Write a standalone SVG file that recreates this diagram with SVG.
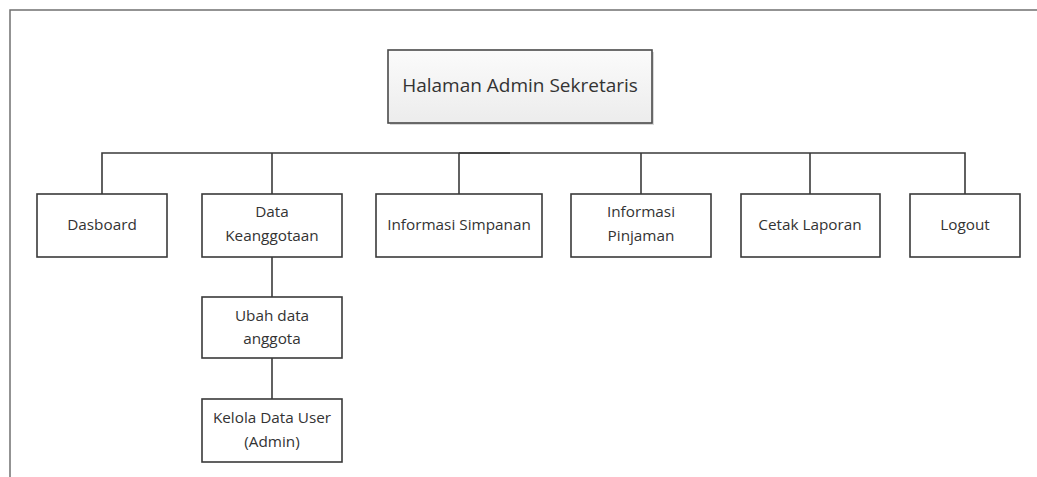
<svg xmlns="http://www.w3.org/2000/svg" width="1037" height="477" viewBox="0 0 1037 477">
  <style>
    .box { fill: #ffffff; stroke: #3a3a3a; stroke-width: 1.6; }
    .root { fill: url(#rootFill); stroke: #4a4a4a; stroke-width: 1.6; }
    .lbl { font-family: "Open Sans", "Liberation Sans", sans-serif; font-size: 15.3px; fill: #333333; text-anchor: middle; dominant-baseline: middle; }
    .title { font-family: "Open Sans", "Liberation Sans", sans-serif; font-size: 19px; fill: #333333; text-anchor: middle; dominant-baseline: middle; }
    .wire { fill: none; stroke: #3a3a3a; stroke-width: 1.6; }
    .frame { fill: none; stroke: #707070; stroke-width: 1.5; }
  </style>
  <defs>
    <linearGradient id="rootFill" x1="0" y1="0" x2="0" y2="1">
      <stop offset="0" stop-color="#fbfbfb"/>
      <stop offset="1" stop-color="#ececec"/>
    </linearGradient>
  </defs>

  <rect width="1037" height="477" fill="#ffffff"/>
  <!-- page frame -->
  <path class="frame" d="M10,477 V10 H1037"/>

  <!-- connectors -->
  <g id="connectors">
    <path class="wire" d="M102,194 V153 H965 V194"/>
    <path class="wire" d="M459,153 H510" stroke-width="2.6"/>
    <path class="wire" d="M272,153 V194"/>
    <path class="wire" d="M459,153 V194"/>
    <path class="wire" d="M641,153 V194"/>
    <path class="wire" d="M810,153 V194"/>
    <path class="wire" d="M272,257 V297"/>
    <path class="wire" d="M272,358 V399"/>
  </g>

  <g id="root">
    <rect x="390" y="52" width="264" height="73" fill="#d8d8d8"/>
    <rect class="root" x="388" y="50" width="264" height="73"/>
    <text class="title" x="520" y="87">Halaman Admin Sekretaris</text>
  </g>

  <g id="dasboard">
    <rect class="box" x="37" y="194" width="130" height="63"/>
    <text class="lbl" x="102" y="225.5">Dasboard</text>
  </g>

  <g id="data-keanggotaan">
    <rect class="box" x="202" y="194" width="140" height="63"/>
    <text class="lbl" x="272" y="213">Data</text>
    <text class="lbl" x="272" y="237">Keanggotaan</text>
  </g>

  <g id="informasi-simpanan">
    <rect class="box" x="376" y="194" width="166" height="63"/>
    <text class="lbl" x="459" y="225.5">Informasi Simpanan</text>
  </g>

  <g id="informasi-pinjaman">
    <rect class="box" x="571" y="194" width="140" height="63"/>
    <text class="lbl" x="641" y="213">Informasi</text>
    <text class="lbl" x="641" y="237">Pinjaman</text>
  </g>

  <g id="cetak-laporan">
    <rect class="box" x="741" y="194" width="139" height="63"/>
    <text class="lbl" x="810" y="225.5">Cetak Laporan</text>
  </g>

  <g id="logout">
    <rect class="box" x="910" y="194" width="110" height="63"/>
    <text class="lbl" x="965" y="225.5">Logout</text>
  </g>

  <g id="ubah-data-anggota">
    <rect class="box" x="202" y="297" width="140" height="61"/>
    <text class="lbl" x="272" y="317">Ubah data</text>
    <text class="lbl" x="272" y="340">anggota</text>
  </g>

  <g id="kelola-data-user">
    <rect class="box" x="202" y="399" width="140" height="63"/>
    <text class="lbl" x="272" y="419">Kelola Data User</text>
    <text class="lbl" x="272" y="443">(Admin)</text>
  </g>
</svg>
